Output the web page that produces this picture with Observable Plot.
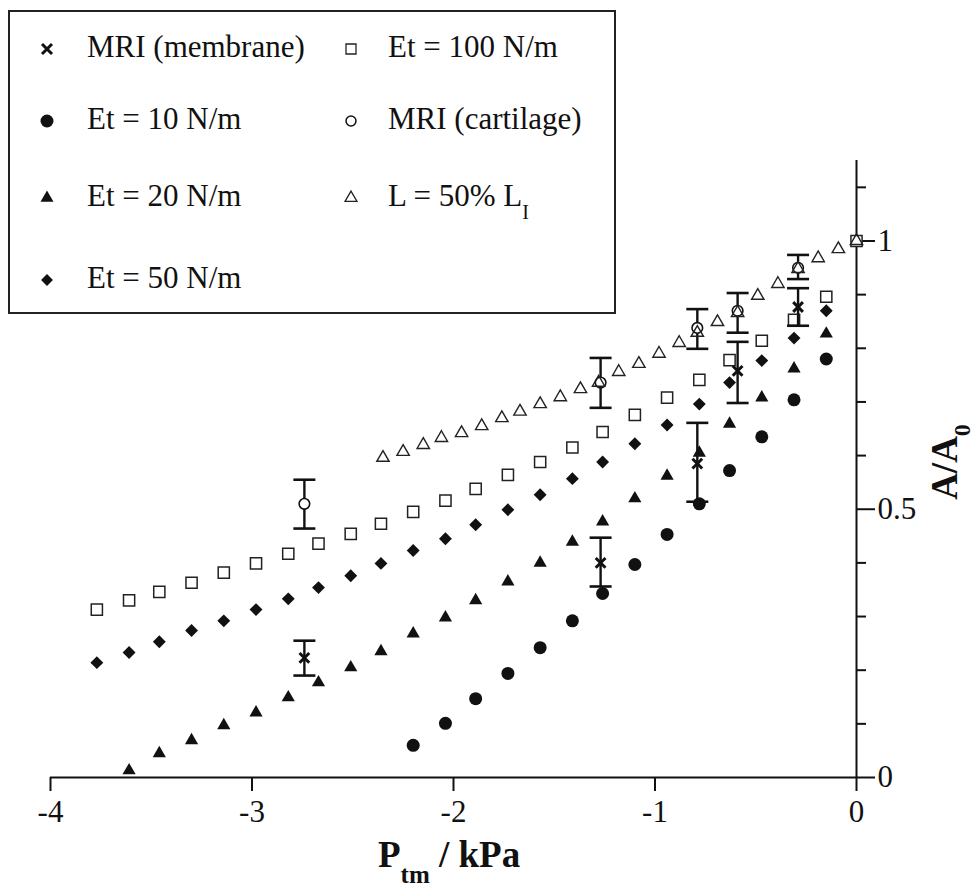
<!DOCTYPE html>
<html><head><meta charset="utf-8">
<script src="https://cdn.jsdelivr.net/npm/d3@7"></script>
<script src="https://cdn.jsdelivr.net/npm/@observablehq/plot@0.6"></script>
<style>
body{margin:0;background:#fff;}
#wrap{position:relative;width:978px;height:888px;font-family:"Liberation Serif","Times New Roman",serif;color:#111;}
#legend{position:absolute;left:8px;top:10px;width:608px;height:304px;border:2.5px solid #222;background:#fff;box-sizing:border-box;}
.item{position:absolute;font-size:31px;line-height:31px;white-space:nowrap;color:#111;}
.item .sub{font-size:20px;position:relative;top:13px;}
.sym{position:absolute;overflow:visible;}
</style></head><body><div id="wrap"></div>
<script>
// ---- tick values ----
const xTicks = [-4, -3, -2, -1, 0];
const yMajor = [0, 0.5, 1];
const yMinor = [0.1, 0.2, 0.3, 0.4, 0.6, 0.7, 0.8, 0.9, 1.1];

// ---- model series (Ptm in kPa, A/A0) ----
const pEt100 = [-3.77,-3.61,-3.46,-3.30,-3.14,-2.98,-2.82,-2.67,-2.51,-2.36,-2.20,-2.04,-1.89,-1.73,-1.57,-1.41,-1.26,-1.10,-0.94,-0.78,-0.63,-0.47,-0.31,-0.15,0];
const aEt100 = [0.313,0.330,0.346,0.363,0.382,0.399,0.417,0.436,0.454,0.473,0.495,0.516,0.538,0.564,0.588,0.615,0.644,0.676,0.708,0.741,0.778,0.814,0.853,0.896,1.0];

const pEt50 = [-3.77,-3.61,-3.46,-3.30,-3.14,-2.98,-2.82,-2.67,-2.51,-2.36,-2.20,-2.04,-1.89,-1.73,-1.57,-1.41,-1.26,-1.10,-0.94,-0.78,-0.63,-0.47,-0.31,-0.15];
const aEt50 = [0.214,0.233,0.253,0.274,0.292,0.313,0.333,0.354,0.376,0.399,0.423,0.445,0.471,0.499,0.527,0.557,0.588,0.622,0.657,0.696,0.736,0.777,0.819,0.870];

const pEt20 = [-3.61,-3.46,-3.30,-3.14,-2.98,-2.82,-2.67,-2.51,-2.36,-2.20,-2.04,-1.89,-1.73,-1.57,-1.41,-1.26,-1.10,-0.94,-0.78,-0.63,-0.47,-0.31,-0.15];
const aEt20 = [0.013,0.045,0.069,0.097,0.121,0.149,0.177,0.205,0.235,0.268,0.298,0.330,0.365,0.400,0.439,0.477,0.520,0.562,0.605,0.659,0.708,0.762,0.827];

const pEt10 = [-2.20,-2.04,-1.89,-1.73,-1.57,-1.41,-1.26,-1.10,-0.94,-0.78,-0.63,-0.47,-0.31,-0.15];
const aEt10 = [0.060,0.101,0.147,0.194,0.242,0.292,0.343,0.397,0.453,0.510,0.572,0.635,0.704,0.780];

const pL50 = [-2.35,-2.25,-2.15,-2.06,-1.96,-1.86,-1.76,-1.67,-1.57,-1.47,-1.37,-1.28,-1.18,-1.08,-0.98,-0.88,-0.79,-0.69,-0.59,-0.49,-0.39,-0.29,-0.19,-0.09,0];
const aL50 = [0.596,0.607,0.620,0.633,0.642,0.655,0.670,0.682,0.696,0.709,0.724,0.736,0.756,0.771,0.790,0.810,0.829,0.849,0.866,0.898,0.920,0.948,0.968,0.985,1.0];

// ---- MRI measurements with error bars ----
const pMRI = [-2.74,-1.27,-0.79,-0.59,-0.29];
const aMembrane = [0.223,0.400,0.585,0.758,0.877];
const loMembrane = [0.190,0.356,0.514,0.698,0.842];
const hiMembrane = [0.255,0.447,0.661,0.812,0.912];
const aCartilage = [0.510,0.736,0.838,0.870,0.950];
const loCartilage = [0.464,0.689,0.799,0.829,0.929];
const hiCartilage = [0.555,0.782,0.873,0.903,0.974];

// ---- legend labels ----
const legendLabels = ["MRI (membrane)", "Et = 10 N/m", "Et = 20 N/m", "Et = 50 N/m", "Et = 100 N/m", "MRI (cartilage)", "L = 50% L"];

const pts = (ps, as) => ps.map((p, i) => ({p, a: as[i]}));
const bars = (as, lo, hi) => pMRI.map((p, i) => ({p, a: as[i], lo: lo[i], hi: hi[i]}));
const membrane = bars(aMembrane, loMembrane, hiMembrane);
const cartilage = bars(aCartilage, loCartilage, hiCartilage);
const errRows = membrane.concat(cartilage);

const cap = {draw(ctx, size) { const w = Math.sqrt(size / Math.PI); ctx.moveTo(-w, 0); ctx.lineTo(w, 0); }};
const INK = "#111";
const SERIF = "'Liberation Serif', 'Times New Roman', serif";

const chart = Plot.plot({
  width: 978, height: 888,
  marginLeft: 50, marginRight: 122, marginTop: 160, marginBottom: 111,
  x: {domain: [-4, 0]},
  y: {domain: [0, 1.15]},
  style: {fontFamily: SERIF, fontSize: "31px", color: INK, background: "white", overflow: "visible"},
  marks: [
    Plot.ruleY([0], {stroke: INK, strokeWidth: 2}),
    Plot.ruleX([0], {stroke: INK, strokeWidth: 2}),
    Plot.axisX(xTicks, {tickSize: 14, tickPadding: 8, tickFormat: d => String(d), label: null, strokeWidth: 2, fontSize: 31}),
    Plot.axisY(yMajor, {anchor: "right", tickSize: 18, tickPadding: 3, tickFormat: d => String(d), label: null, strokeWidth: 2, fontSize: 31}),
    Plot.axisY(yMinor, {anchor: "right", tickSize: 9, tickFormat: () => "", label: null, strokeWidth: 2}),
    Plot.dot(pts(pEt100, aEt100), {x: "p", y: "a", symbol: "square", r: 6.3, fill: "white", stroke: "#222", strokeWidth: 1.5}),
    Plot.dot(pts(pEt50, aEt50), {x: "p", y: "a", symbol: "diamond2", r: 5.8, fill: INK, stroke: "none"}),
    Plot.dot(pts(pEt20, aEt20), {x: "p", y: "a", symbol: "triangle", r: 4.9, fill: INK, stroke: "none"}),
    Plot.dot(pts(pEt10, aEt10), {x: "p", y: "a", symbol: "circle", r: 6.5, fill: INK, stroke: "none"}),
    Plot.ruleX(errRows, {x: "p", y1: "lo", y2: "hi", stroke: INK, strokeWidth: 2.4}),
    Plot.dot(errRows, {x: "p", y: "lo", symbol: cap, r: 11, fill: "none", stroke: INK, strokeWidth: 2.6}),
    Plot.dot(errRows, {x: "p", y: "hi", symbol: cap, r: 11, fill: "none", stroke: INK, strokeWidth: 2.6}),
    Plot.dot(membrane, {x: "p", y: "a", symbol: "times", r: 4.5, fill: "none", stroke: INK, strokeWidth: 3}),
    Plot.dot(cartilage, {x: "p", y: "a", symbol: "circle", r: 5.3, fill: "white", stroke: INK, strokeWidth: 1.6}),
    Plot.dot(pts(pL50, aL50), {x: "p", y: "a", symbol: "triangle", r: 4.6, fill: "none", stroke: "#222", strokeWidth: 1.4})
  ]
});

const wrap = document.getElementById("wrap");
wrap.appendChild(chart);

// axis titles with subscripts
const svg = d3.select(chart);
const xt = svg.append("text").attr("x", 378).attr("y", 867).attr("text-anchor", "start")
  .attr("font-family", SERIF).attr("font-weight", "bold").attr("font-size", 37).attr("fill", INK);
xt.append("tspan").text("P");
xt.append("tspan").attr("dy", 16).attr("font-size", 25).text("tm");
xt.append("tspan").attr("dy", -16).text(" / kPa");

const yt = svg.append("text").attr("transform", "translate(957,462) rotate(-90)").attr("text-anchor", "middle")
  .attr("font-family", SERIF).attr("font-weight", "bold").attr("font-size", 37).attr("fill", INK);
yt.append("tspan").text("A/A");
yt.append("tspan").attr("dy", 13).attr("font-size", 24).text("0");

// legend
const legend = document.createElement("div");
legend.id = "legend";
wrap.appendChild(legend);

const colSym = [47, 351], colText = [87, 388];
const rowY = [46, 118, 195, 277];
const legendSpecs = [
  {type: d3.symbolTimes, size: 67, fill: "none", stroke: INK, sw: 3},
  {type: d3.symbolCircle, size: 132, fill: INK, stroke: "none", sw: 0},
  {type: d3.symbolTriangle, size: 73, fill: INK, stroke: "none", sw: 0},
  {type: d3.symbolDiamond2, size: 90, fill: INK, stroke: "none", sw: 0},
  {type: d3.symbolSquare, size: 100, fill: "white", stroke: "#222", sw: 1.3},
  {type: d3.symbolCircle, size: 78, fill: "white", stroke: INK, sw: 1.5},
  {type: d3.symbolTriangle, size: 62, fill: "none", stroke: "#222", sw: 1.3}
];
legendLabels.forEach((label, i) => {
  const col = i < 4 ? 0 : 1, row = i < 4 ? i : i - 4;
  const cy = rowY[row];
  const spec = legendSpecs[i];
  const s = d3.create("svg").attr("class", "sym").attr("width", 24).attr("height", 24)
    .style("left", (colSym[col] - 12) + "px").style("top", (cy + 3 - 12) + "px");
  s.append("path").attr("transform", "translate(12,12)")
    .attr("d", d3.symbol(spec.type, spec.size)())
    .attr("fill", spec.fill).attr("stroke", spec.stroke).attr("stroke-width", spec.sw);
  wrap.appendChild(s.node());
  const t = document.createElement("div");
  t.className = "item";
  t.style.left = colText[col] + "px";
  t.style.top = (cy - 15.5) + "px";
  t.textContent = label;
  if (i === 6) { const sub = document.createElement("span"); sub.className = "sub"; sub.textContent = "I"; t.appendChild(sub); }
  wrap.appendChild(t);
});
</script></body></html>
